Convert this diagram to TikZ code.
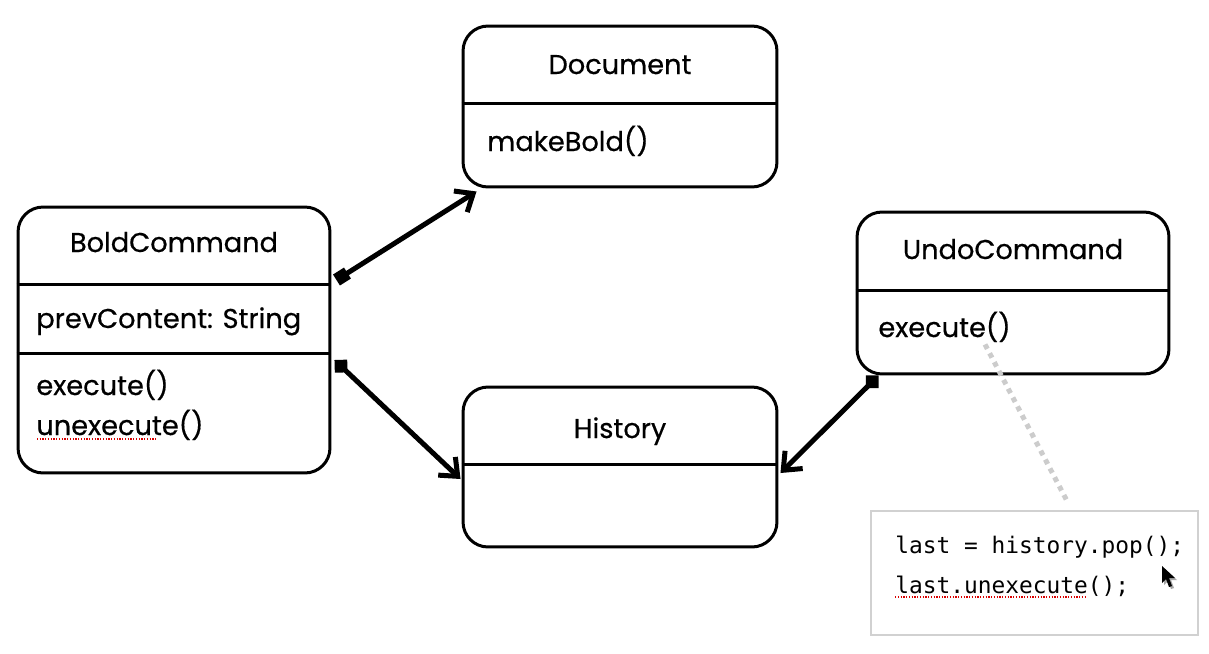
\documentclass[tikz,border=0pt]{standalone}
\usepackage{fontspec}
\setmainfont{Poppins}[FakeBold=0.5, UprightFeatures={FakeBold=0.5}]
\setmonofont{DejaVu Sans Mono}
\usetikzlibrary{arrows.meta,calc}

\tikzset{
  umlbox/.style={draw, line width=0.06cm, rounded corners=0.5cm, inner sep=0pt},
  notebox/.style={draw=black!18, line width=0.045cm, inner sep=0pt},
  title/.style={font=\fontsize{15.5}{19}\selectfont, inner sep=0pt, anchor=base},
  member/.style={font=\fontsize{15.5}{19}\selectfont, inner sep=0pt, anchor=base west},
  code/.style={font=\ttfamily\fontsize{13}{16}\selectfont, inner sep=0pt, anchor=base west},
  divider/.style={line width=0.06cm},
  assoc/.style={line width=0.1cm, {Square[length=0.26cm,width=0.26cm]}-{Straight Barb[length=0.3cm,width=0.5cm]}},
  assocd/.style={line width=0.1cm, {Turned Square[length=0.36cm,width=0.36cm]}-{Straight Barb[length=0.3cm,width=0.5cm]}},
  spell/.style={red!85!black, line width=0.025cm, dash pattern=on 0.025cm off 0.03cm},
}

\begin{document}
\begin{tikzpicture}[x=0.02cm, y=-0.02cm]
    \useasboundingbox[fill=white] (0, 0) rectangle (1209, 653);

    % classes
    \node[umlbox, minimum width=6.28cm, minimum height=3.22cm] (doc) at (620, 106.5) {};
        \draw[divider] (doc.west |- 0, 103) -- (doc.east |- 0, 103);
        \node[title] (doctitle) at (620, 74) {Document};
        \node[member] (docbold) at (487, 151) {makeBold()};

    \node[umlbox, minimum width=6.24cm, minimum height=5.32cm] (bold) at (174, 340) {};
        \draw[divider] (bold.west |- 0, 284) -- (bold.east |- 0, 284);
        \draw[divider] (bold.west |- 0, 353) -- (bold.east |- 0, 353);
        \node[title] (boldtitle) at (174, 252) {BoldCommand};
        \node[member] (boldprev) at (36, 328) {prevContent: String};
        \node[member] (boldexec) at (36, 395) {execute()};
        \node[member] (boldunexec) at (36, 435) {unexecute()};
        \draw[spell] (37, 439) -- (157, 439);

    \node[umlbox, minimum width=6.24cm, minimum height=3.24cm] (undo) at (1013, 293) {};
        \draw[divider] (undo.west |- 0, 290) -- (undo.east |- 0, 290);
        \node[title] (undotitle) at (1013, 259) {UndoCommand};
        \node[member] (undoexec) at (878, 337) {execute()};

    \node[umlbox, minimum width=6.28cm, minimum height=3.2cm] (hist) at (620, 467) {};
        \draw[divider] (hist.west |- 0, 464) -- (hist.east |- 0, 464);
        \node[title] (histtitle) at (620, 438) {History};

    % associations
    \draw[assoc] ($(bold.east) + (5, -60)$) -- ($(doc.south west) + (15, 3)$);
    \draw[assocd] ($(bold.east) + (3, 20)$) -- ($(hist.west) + (-1, 12)$);
    \draw[assocd] ($(undo.south west) + (23, 0)$) -- ($(hist.east) + (2, 6)$);

    % note
    \node[notebox, minimum width=6.54cm, minimum height=2.48cm] (note) at (1034.5, 573) {};
    \draw[black!20, line width=0.1cm, dash pattern=on 0.1cm off 0.1cm] ($(undoexec.south east) + (-26, 2)$) -- ($(note.north) + (33, -8)$);
        \node[code] (noteline1) at (895, 553) {last = history.pop();};
        \node[code] (noteline2) at (895, 593) {last.unexecute();};
        \draw[spell] (895, 597) -- (1086, 597);

    % cursor
    \fill[black!35] (1164, 568) -- (1164, 585) -- (1168, 581) -- (1171, 589) -- (1174, 588) -- (1171, 580) -- (1177, 580) -- cycle;
    \fill (1162, 566) -- (1162, 583) -- (1166, 579) -- (1169, 587) -- (1172, 586) -- (1169, 578) -- (1175, 578) -- cycle;
\end{tikzpicture}
\end{document}
